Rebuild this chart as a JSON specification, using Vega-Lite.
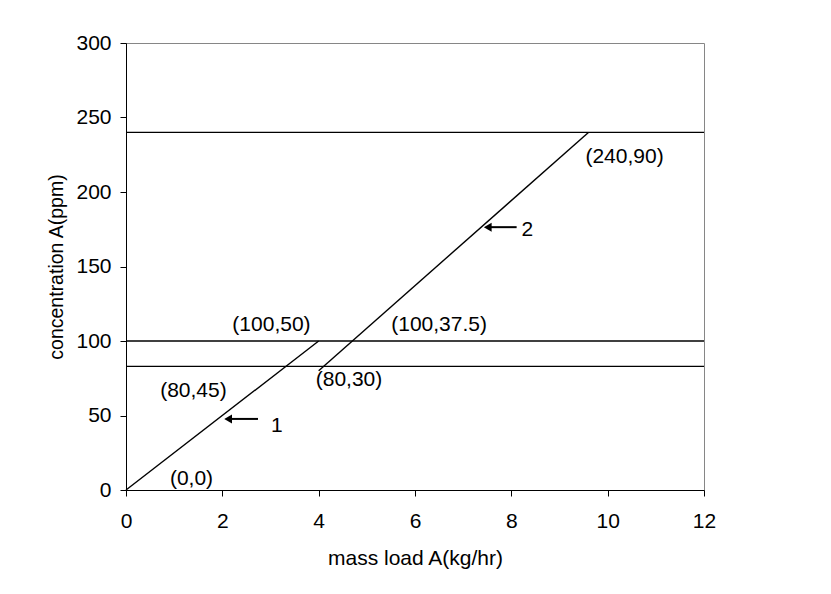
{
  "$schema": "https://vega.github.io/schema/vega-lite/v6.json",
  "autosize": {"type": "none"},
  "padding": {"left": 126, "top": 43, "right": 127, "bottom": 104},
  "width": 578,
  "height": 447,
  "background": "white",
  "config": {
    "view": {"stroke": "#868686", "strokeWidth": 1},
    "axis": {
      "labelFont": "Liberation Sans",
      "labelFontSize": 21,
      "labelColor": "black",
      "titleFont": "Liberation Sans",
      "titleFontSize": 21,
      "titleFontWeight": "normal",
      "titleColor": "black",
      "domainColor": "black",
      "domainWidth": 1,
      "tickColor": "black",
      "tickSize": 6,
      "grid": false
    },
    "text": {"font": "Liberation Sans", "fontSize": 21, "color": "black"}
  },
  "datasets": {
    "levels": [{"y": 240}, {"y": 100}, {"y": 83}],
    "segments": [
      {"series": "1", "x": 0, "y": 0},
      {"series": "1", "x": 4, "y": 100},
      {"series": "2", "x": 4, "y": 80},
      {"series": "2", "x": 9.6, "y": 240}
    ],
    "arrows": [
      {"arrow": "1", "x": 2.12, "x2": 2.74, "y": 47.7},
      {"arrow": "2", "x": 7.51, "x2": 8.11, "y": 176.4}
    ],
    "labels": [
      {"label": "(100,50)", "x": 3.02, "y": 110.8},
      {"label": "(100,37.5)", "x": 6.5, "y": 110.8},
      {"label": "(80,30)", "x": 4.63, "y": 73.9},
      {"label": "(80,45)", "x": 1.4, "y": 66.7},
      {"label": "(0,0)", "x": 1.36, "y": 7.4},
      {"label": "(240,90)", "x": 10.35, "y": 223.8},
      {"label": "1", "x": 3.13, "y": 43},
      {"label": "2", "x": 8.33, "y": 174.6}
    ]
  },
  "layer": [
    {
      "data": {"name": "segments"},
      "mark": {"type": "line", "color": "black", "strokeWidth": 1.4},
      "encoding": {
        "x": {"field": "x", "type": "quantitative", "scale": {"domain": [0, 12], "nice": false},
              "axis": {"title": "mass load A(kg/hr)", "values": [0, 2, 4, 6, 8, 10, 12], "labelPadding": 14, "titlePadding": 16, "labelFlush": false}},
        "y": {"field": "y", "type": "quantitative", "scale": {"domain": [0, 300], "nice": false},
              "axis": {"title": "concentration A(ppm)", "titleFontSize": 19.5, "values": [0, 50, 100, 150, 200, 250, 300], "labelPadding": 9, "titlePadding": 9, "labelFlush": false}},
        "detail": {"field": "series"}
      }
    },
    {
      "data": {"name": "levels"},
      "mark": {"type": "rule", "color": "black", "strokeWidth": 1.4},
      "encoding": {
        "y": {"field": "y", "type": "quantitative"}
      }
    },
    {
      "data": {"name": "arrows"},
      "mark": {"type": "rule", "color": "black", "strokeWidth": 2},
      "encoding": {
        "x": {"field": "x", "type": "quantitative"},
        "x2": {"field": "x2"},
        "y": {"field": "y", "type": "quantitative"}
      }
    },
    {
      "data": {"name": "arrows"},
      "mark": {"type": "point", "shape": "triangle-left", "filled": true, "color": "black", "size": 80, "opacity": 1},
      "encoding": {
        "x": {"field": "x", "type": "quantitative"},
        "y": {"field": "y", "type": "quantitative"}
      }
    },
    {
      "data": {"name": "labels"},
      "mark": {"type": "text", "align": "center", "baseline": "middle"},
      "encoding": {
        "x": {"field": "x", "type": "quantitative"},
        "y": {"field": "y", "type": "quantitative"},
        "text": {"field": "label"}
      }
    }
  ]
}
